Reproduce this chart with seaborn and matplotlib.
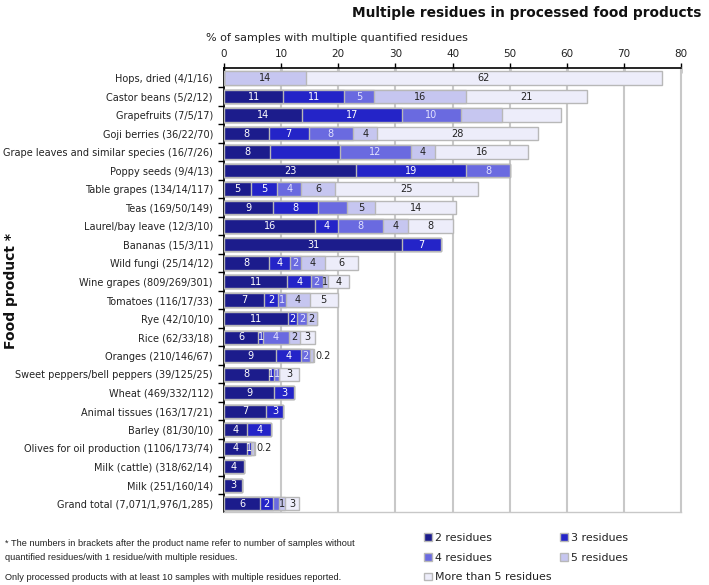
import matplotlib
matplotlib.use("Agg")
import matplotlib.pyplot as plt
import matplotlib.patches as mpatches
import numpy as np
import pandas as pd
import seaborn as sns

# Data (% of samples, segment widths)
products = ["Hops, dried (4/1/16)", "Castor beans (5/2/12)", "Grapefruits (7/5/17)",
	"Goji berries (36/22/70)", "Grape leaves and similar species (16/7/26)", "Poppy seeds (9/4/13)",
	"Table grapes (134/14/117)", "Teas (169/50/149)", "Laurel/bay leave (12/3/10)",
	"Bananas (15/3/11)", "Wild fungi (25/14/12)", "Wine grapes (809/269/301)",
	"Tomatoes (116/17/33)", "Rye (42/10/10)", "Rice (62/33/18)", "Oranges (210/146/67)",
	"Sweet peppers/bell peppers (39/125/25)", "Wheat (469/332/112)", "Animal tissues (163/17/21)",
	"Barley (81/30/10)", "Olives for oil production (1106/173/74)", "Milk (cattle) (318/62/14)",
	"Milk (251/160/14)", "Grand total (7,071/1,976/1,285)"]

res2 = [0, 10.4, 13.7, 7.8, 8.1, 23.1, 4.8, 8.5, 16.0, 31.2, 7.8, 11.1, 7.0, 11.2, 6.0, 9.1, 7.8, 8.8, 7.4, 4.1, 4.1, 3.5, 3.1, 6.3]
res3 = [0, 10.6, 17.4, 7.0, 12.2, 19.3, 4.5, 8.0, 4.0, 6.8, 3.8, 4.1, 2.5, 1.6, 0.9, 4.3, 0.9, 3.4, 3.0, 4.1, 0.7, 0, 0, 2.3]
res4 = [0, 5.3, 10.3, 7.8, 12.4, 7.7, 4.2, 5.0, 7.9, 0, 1.9, 2.1, 1.3, 1.7, 4.4, 1.6, 1.0, 0, 0, 0, 0, 0, 0, 1.1]
res5 = [14.4, 16.0, 7.2, 4.2, 4.2, 0, 5.9, 5.0, 4.3, 0, 4.1, 0.9, 4.2, 1.7, 2.0, 0.5, 0, 0, 0, 0, 0.4, 0, 0, 0.9]
res_more = [62.2, 21.2, 10.4, 28.2, 16.4, 0, 25.0, 14.1, 7.8, 0, 5.9, 3.7, 4.9, 0, 2.7, 0.2, 3.5, 0, 0, 0, 0.2, 0, 0, 2.6]

lab2 = ["", "11", "14", "8", "8", "23", "5", "9", "16", "31", "8", "11", "7", "11", "6", "9", "8", "9", "7", "4", "4", "4", "3", "6"]
lab3 = ["", "11", "17", "7", "", "19", "5", "8", "4", "7", "4", "4", "2", "2", "1", "4", "1", "3", "3", "4", "1", "", "", "2"]
lab4 = ["", "5", "10", "8", "12", "8", "4", "", "8", "", "2", "2", "1", "2", "4", "2", "1", "", "", "", "", "", "", ""]
lab5 = ["14", "16", "", "4", "4", "", "6", "5", "4", "", "4", "1", "4", "2", "2", "", "", "", "", "", "", "", "", "1"]
lab_more = ["62", "21", "", "28", "16", "", "25", "14", "8", "", "6", "4", "5", "", "3", "0.2", "3", "", "", "", "0.2", "", "", "3"]

levels = ["2 residues", "3 residues", "4 residues", "5 residues", "More than 5 residues"]
colors = ["#1c1c8c", "#2424c8", "#6a6ae0", "#c6c6f0", "#ededfa"]
text_colors = ["white", "white", "#e2e2ff", "#222222", "#222222"]

sns.set_theme(style = "white")
plt.rcParams["font.family"] = ["DejaVu Sans"]

widths = np.array([res2, res3, res4, res5, res_more])
labels = [lab2, lab3, lab4, lab5, lab_more]
cum = np.cumsum(widths, axis = 0)

fig = plt.figure(figsize = (7.09, 5.85), dpi = 100)
ax = fig.add_axes([0.316, 0.1248, 0.6445, 0.759])

# Stacked bars: draw cumulative totals from the largest down
for k in range(4, -1, -1):
	df = pd.DataFrame({ "product": products, "value": cum[k] })
	sns.barplot(data = df, x = "value", y = "product", order = products, color = colors[k], saturation = 1,
		width = 0.72, edgecolor = "#b8b8b8", linewidth = 1, errorbar = None, ax = ax, zorder = 3)

# Segment labels
for k in range(5):
	for i in range(len(products)):
		txt = labels[k][i]
		if not txt:
			continue
		left = cum[k][i] - widths[k][i]
		if widths[k][i] < 0.6:
			ax.text(cum[k][i] + 0.3, i, txt, ha = "left", va = "center", fontsize = 7, color = "#222222", zorder = 5)
		else:
			ax.text(left + widths[k][i] / 2, i, txt, ha = "center", va = "center", fontsize = 7, color = text_colors[k], zorder = 5)

ax.set_xlim(0, 80)
ax.set_ylim(len(products) - 0.55, -0.55)
ax.set_xticks(range(0, 81, 10))
ax.xaxis.tick_top()
ax.tick_params(axis = "x", direction = "inout", length = 7, width = 1, color = "black", labelsize = 7.5, pad = 3, labelcolor = "#222222")
ax.set_xlabel("")
ax.set_ylabel("")
for x in range(10, 80, 10):
	ax.axvline(x, color = "#c8c8c8", linewidth = 1.5, zorder = 1)

ax.set_yticks(range(len(products)))
ax.set_yticklabels(products, fontsize = 7, color = "#222222")
ax.set_yticks(np.arange(0.5, len(products) - 1, 1), minor = True)
ax.tick_params(axis = "y", which = "major", length = 0, pad = 8)
ax.tick_params(axis = "y", which = "minor", left = True, length = 4, width = 1, color = "black", direction = "out")

ax.spines["top"].set_color("black")
ax.spines["top"].set_linewidth(1.2)
ax.spines["left"].set_color("black")
ax.spines["left"].set_linewidth(1.2)
ax.spines["right"].set_color("#c8c8c8")
ax.spines["right"].set_linewidth(1.5)
ax.spines["bottom"].set_color("#c8c8c8")
ax.spines["bottom"].set_linewidth(1)

fig.text(0.989, 0.978, "Multiple residues in processed food products", ha = "right", va = "center",
	fontsize = 9.9, fontweight = "bold", color = "#111111")
fig.text(0.29, 0.935, "% of samples with multiple quantified residues", ha = "left", va = "center",
	fontsize = 8, color = "#222222")
fig.text(0.016, 0.502, "Food product *", rotation = 90, ha = "center", va = "center",
	fontsize = 10, fontweight = "bold", color = "#111111")

# Footnotes
note_font = ["Liberation Sans", "DejaVu Sans"]
fig.text(0.007, 0.071, "* The numbers in brackets after the product name refer to number of samples without",
	fontsize = 6.7, family = note_font, color = "#222222", va = "center")
fig.text(0.007, 0.047, "quantified residues/with 1 residue/with multiple residues.",
	fontsize = 6.7, family = note_font, color = "#222222", va = "center")
fig.text(0.007, 0.012, "Only processed products with at least 10 samples with multiple residues reported.",
	fontsize = 6.7, family = note_font, color = "#222222", va = "center")

handles = [mpatches.Patch(facecolor = colors[k], edgecolor = "#b8b8b8", label = levels[k]) for k in range(5)]
order = [0, 2, 4, 1, 3]
fig.legend([handles[k] for k in order], [levels[k] for k in order], loc = "upper left",
	bbox_to_anchor = (0.598, 0.0895), ncol = 2, frameon = False, fontsize = 7.9,
	handlelength = 0.7, handleheight = 0.7, handletextpad = 0.3, columnspacing = 0.8,
	labelspacing = 0.9, borderpad = 0, borderaxespad = 0, labelcolor = "#222222")

fig.savefig("out.png", dpi = 100)
